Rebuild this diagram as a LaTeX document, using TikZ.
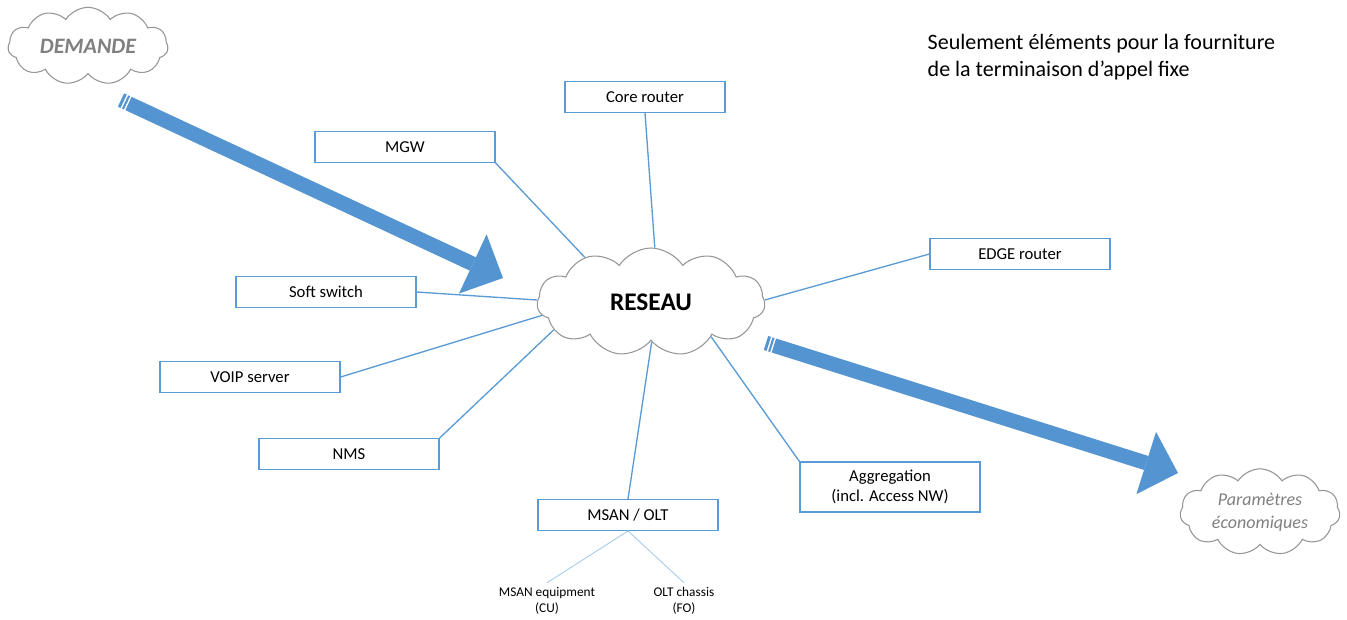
\documentclass[tikz,border=0pt]{standalone}
\usepackage{fontspec}
\setmainfont{Carlito}
\usetikzlibrary{shapes.symbols,arrows.meta,calc}
\definecolor{boxblue}{RGB}{91,155,213}
\definecolor{paleblue}{RGB}{170,205,235}
\definecolor{arrowblue}{RGB}{84,148,208}
\definecolor{cloudgray}{RGB}{150,150,150}
\definecolor{textgray}{RGB}{128,128,128}
\tikzset{
  elem/.style={draw=boxblue, line width=0.9pt, fill=white,
    minimum width=135pt, minimum height=23pt, inner sep=2pt,
    font=\fontsize{12.5}{15}\selectfont, align=center},
  nuage/.style={cloud, cloud puffs=11, cloud puff arc=115,
    cloud ignores aspect, draw=cloudgray, line width=0.8pt, fill=white},
  link/.style={draw=boxblue, line width=1pt},
  sublink/.style={draw=paleblue, line width=0.7pt},
  bigshaft/.style={draw=arrowblue, line width=11pt},
  bigarrow/.style={bigshaft,
    -{Triangle[length=25pt, width=49pt, line width=0pt]}},
  petit/.style={font=\fontsize{10}{12}\selectfont, align=center}
}
\begin{document}
\begin{tikzpicture}[x=0.75pt, y=-0.75pt]
\useasboundingbox (0,0) rectangle (1347,619);
% clouds
\node[nuage, minimum width=120pt, minimum height=58pt, text=textgray,
  font=\fontsize{16.5}{19}\selectfont\bfseries\itshape] (demande) at (88,46) {DEMANDE};
\node[nuage, minimum width=171pt, minimum height=81pt,
  font=\fontsize{19}{22}\selectfont\bfseries] (reseau) at (651,302) {RESEAU};
\node[nuage, minimum width=120pt, minimum height=60pt, align=center, text=textgray,
  font=\fontsize{13.5}{17}\selectfont\itshape] (param) at (1260,512) {Paramètres\\économiques};
% network elements
\node[elem, minimum width=120pt] (core) at (645,97) {Core router};
\node[elem] (mgw) at (405,147) {MGW};
\node[elem] (edge) at (1020,254) {EDGE router};
\node[elem] (soft) at (326,292) {Soft switch};
\node[elem] (voip) at (250,377) {VOIP server};
\node[elem] (nms) at (349,454) {NMS};
\node[elem] (msan) at (628,515) {MSAN / OLT};
\node[elem, minimum height=37.5pt] (aggr) at (890,487) {Aggregation\\(incl. Access NW)};
\node[petit] (cu) at (547,601) {MSAN equipment\\(CU)};
\node[petit] (fo) at (684,601) {OLT chassis\\(FO)};
% links to the cloud
\draw[link] (core.south) -- (reseau.86);
\draw[link] (mgw.south east) -- (reseau.146);
\draw[link] (soft.east) -- (reseau.179);
\draw[link] (voip.east) -- (reseau.187);
\draw[link] (nms.north east) -- (reseau.196);
\draw[link] (msan.north) -- (reseau.271);
\draw[link] (aggr.north west) -- (reseau.330);
\draw[link] (edge.west) -- (reseau.1);
\draw[sublink] (msan.south) -- (cu.north);
\draw[sublink] (msan.south) -- (fo.north);
% big arrows
\coordinate (dem1) at (121,100);
\coordinate (dem2) at (503,278);
\coordinate (par1) at (766,343);
\coordinate (par2) at (1178,473);
\foreach \a/\b in {dem1/dem2, par1/par2} {
  \draw[bigshaft] (\a) -- ($(\a)!2.2pt!(\b)$);
  \draw[bigshaft] ($(\a)!3.4pt!(\b)$) -- ($(\a)!5pt!(\b)$);
  \draw[bigarrow] ($(\a)!6.2pt!(\b)$) -- (\b);
}
% note
\node[anchor=west, align=left, font=\fontsize{16.5}{20}\selectfont] (note) at (923,57)
  {Seulement éléments pour la fourniture\\de la terminaison d’appel fixe};
\end{tikzpicture}
\end{document}
